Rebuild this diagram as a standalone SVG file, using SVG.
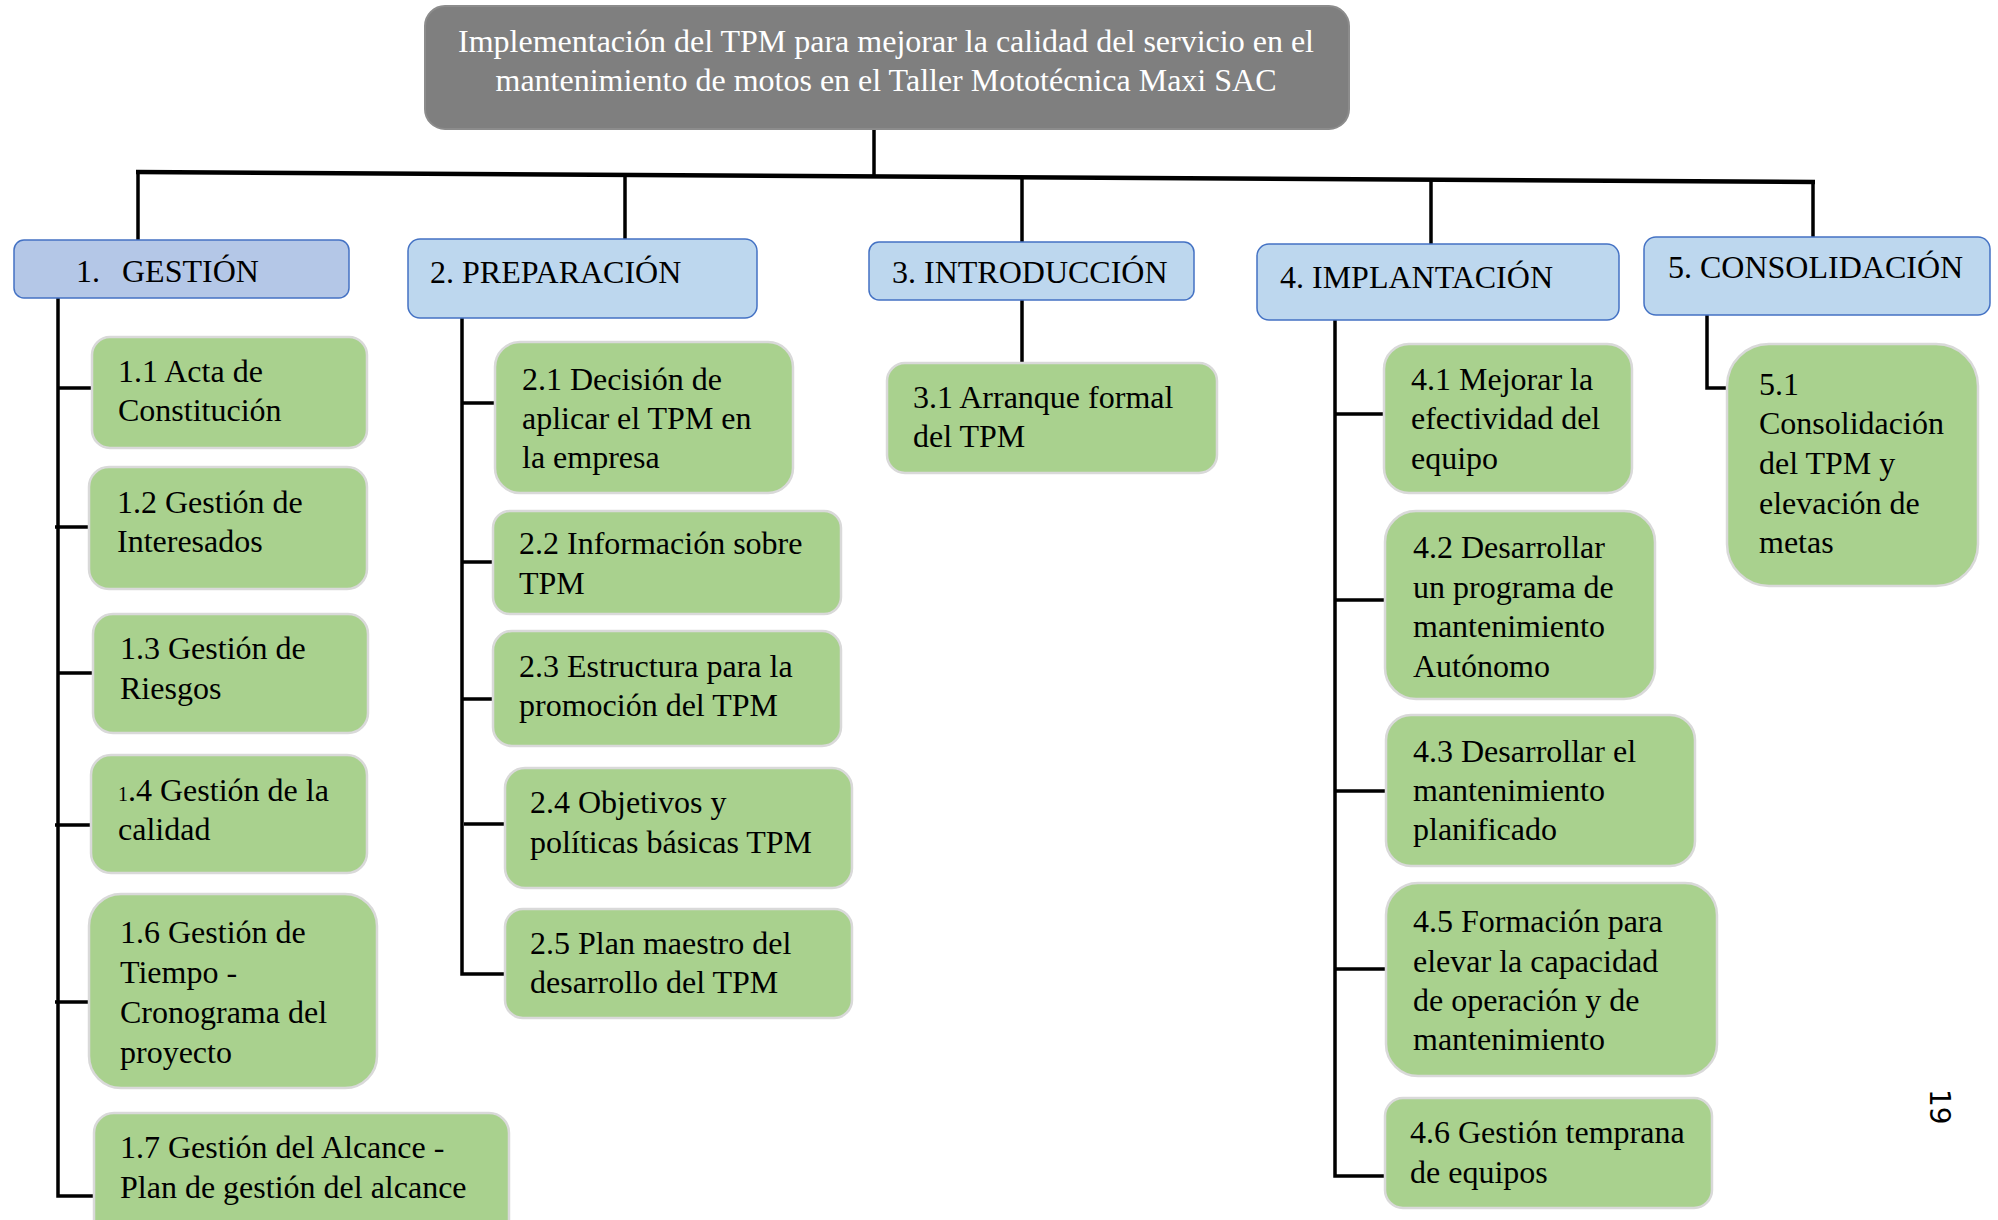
<svg xmlns="http://www.w3.org/2000/svg" width="1998" height="1220" viewBox="0 0 1998 1220">
<style>
.t{font-family:"Liberation Serif","Times New Roman",serif;font-size:32px;fill:#000}
.tw{font-family:"Liberation Serif","Times New Roman",serif;font-size:32px;fill:#fff}
.g{fill:#A9D18E;stroke:#D9D9D9;stroke-width:2.5}
.b{fill:#BDD7EE;stroke:#4472C4;stroke-width:1.5}
.c{stroke:#000;stroke-width:3.5;fill:none}
</style>
<rect width="1998" height="1220" fill="#fff"/>
<g id="connectors">
<line x1="136" y1="172" x2="1815" y2="182" stroke="#000" stroke-width="4.5"/>
<line class="c" x1="874" y1="129" x2="874" y2="178"/>
<line class="c" x1="138" y1="172" x2="138" y2="240"/>
<line class="c" x1="625" y1="175" x2="625" y2="239"/>
<line class="c" x1="1022" y1="178" x2="1022" y2="242"/>
<line class="c" x1="1431" y1="180" x2="1431" y2="244"/>
<line class="c" x1="1813" y1="182" x2="1813" y2="237"/>
<path class="c" d="M58 298 V1196 H94 M58 388 H92 M55 527 H90 M58 673 H93 M55 825 H91 M55 1002 H90"/>
<path class="c" d="M462 318 V974 H505 M462 403 H495 M462 562 H493 M462 699 H493 M464 824 H504"/>
<line class="c" x1="1022" y1="300" x2="1022" y2="363"/>
<path class="c" d="M1335 320 V1176 H1385 M1335 414 H1384 M1335 600 H1385 M1335 791 H1386 M1335 969 H1386"/>
<path class="c" d="M1707 315 V388 H1727"/>
</g>
<g id="title">
<rect x="425" y="6" width="924" height="123" rx="20" fill="#7F7F7F" stroke="#8C8C8C" stroke-width="2"/>
<text class="tw" x="886" y="52" text-anchor="middle">Implementación del TPM para mejorar la calidad del servicio en el</text>
<text class="tw" x="886" y="91" text-anchor="middle">mantenimiento de motos en el Taller Mototécnica Maxi SAC</text>
</g>
<g id="n1">
<rect x="14" y="240" width="335" height="58" rx="10" fill="#B4C7E7" stroke="#4472C4" stroke-width="1.5"/>
<text class="t" y="282"><tspan x="76">1.</tspan><tspan x="122">GESTIÓN</tspan></text>
</g>
<g id="n2">
<rect class="b" x="408" y="239" width="349" height="79" rx="12"/>
<text class="t" x="430" y="283">2. PREPARACIÓN</text>
</g>
<g id="n3">
<rect class="b" x="869" y="242" width="325" height="58" rx="10"/>
<text class="t" x="892" y="283">3. INTRODUCCIÓN</text>
</g>
<g id="n4">
<rect class="b" x="1257" y="244" width="362" height="76" rx="12"/>
<text class="t" x="1280" y="288">4. IMPLANTACIÓN</text>
</g>
<g id="n5">
<rect class="b" x="1644" y="237" width="346" height="78" rx="12"/>
<text class="t" x="1668" y="278">5. CONSOLIDACIÓN</text>
</g>
<g id="n1_1">
<rect class="g" x="92" y="337" width="275" height="111" rx="18"/>
<text class="t" x="118" y="382">1.1 Acta de</text>
<text class="t" x="118" y="421">Constitución</text>
</g>
<g id="n1_2">
<rect class="g" x="89" y="467" width="278" height="122" rx="20"/>
<text class="t" x="117" y="513">1.2 Gestión de</text>
<text class="t" x="117" y="552">Interesados</text>
</g>
<g id="n1_3">
<rect class="g" x="93" y="614" width="275" height="119" rx="20"/>
<text class="t" x="120" y="659">1.3 Gestión de</text>
<text class="t" x="120" y="699">Riesgos</text>
</g>
<g id="n1_4">
<rect class="g" x="91" y="755" width="276" height="118" rx="20"/>
<text class="t" x="118" y="801"><tspan font-size="20">1</tspan>.4 Gestión de la</text>
<text class="t" x="118" y="840">calidad</text>
</g>
<g id="n1_6">
<rect class="g" x="89" y="894" width="288" height="194" rx="32"/>
<text class="t" x="120" y="943">1.6 Gestión de</text>
<text class="t" x="120" y="983">Tiempo -</text>
<text class="t" x="120" y="1023">Cronograma del</text>
<text class="t" x="120" y="1063">proyecto</text>
</g>
<g id="n1_7">
<rect class="g" x="94" y="1113" width="415" height="130" rx="20"/>
<text class="t" x="120" y="1158">1.7 Gestión del Alcance -</text>
<text class="t" x="120" y="1198">Plan de gestión del alcance</text>
</g>
<g id="n2_1">
<rect class="g" x="495" y="342" width="298" height="151" rx="25"/>
<text class="t" x="522" y="390">2.1 Decisión de</text>
<text class="t" x="522" y="429">aplicar el TPM en</text>
<text class="t" x="522" y="468">la empresa</text>
</g>
<g id="n2_2">
<rect class="g" x="493" y="511" width="348" height="103" rx="17"/>
<text class="t" x="519" y="554">2.2 Información sobre</text>
<text class="t" x="519" y="594">TPM</text>
</g>
<g id="n2_3">
<rect class="g" x="493" y="631" width="348" height="115" rx="19"/>
<text class="t" x="519" y="677">2.3 Estructura para la</text>
<text class="t" x="519" y="716">promoción del TPM</text>
</g>
<g id="n2_4">
<rect class="g" x="505" y="768" width="347" height="120" rx="20"/>
<text class="t" x="530" y="813">2.4 Objetivos y</text>
<text class="t" x="530" y="853">políticas básicas TPM</text>
</g>
<g id="n2_5">
<rect class="g" x="505" y="909" width="347" height="109" rx="18"/>
<text class="t" x="530" y="954">2.5 Plan maestro del</text>
<text class="t" x="530" y="993">desarrollo del TPM</text>
</g>
<g id="n3_1">
<rect class="g" x="887" y="363" width="330" height="110" rx="18"/>
<text class="t" x="913" y="408">3.1 Arranque formal</text>
<text class="t" x="913" y="447">del TPM</text>
</g>
<g id="n4_1">
<rect class="g" x="1384" y="344" width="248" height="149" rx="25"/>
<text class="t" x="1411" y="390">4.1 Mejorar la</text>
<text class="t" x="1411" y="429">efectividad del</text>
<text class="t" x="1411" y="469">equipo</text>
</g>
<g id="n4_2">
<rect class="g" x="1385" y="511" width="270" height="188" rx="31"/>
<text class="t" x="1413" y="558">4.2 Desarrollar</text>
<text class="t" x="1413" y="598">un programa de</text>
<text class="t" x="1413" y="637">mantenimiento</text>
<text class="t" x="1413" y="677">Autónomo</text>
</g>
<g id="n4_3">
<rect class="g" x="1386" y="715" width="309" height="151" rx="25"/>
<text class="t" x="1413" y="762">4.3 Desarrollar el</text>
<text class="t" x="1413" y="801">mantenimiento</text>
<text class="t" x="1413" y="840">planificado</text>
</g>
<g id="n4_5">
<rect class="g" x="1386" y="883" width="331" height="193" rx="32"/>
<text class="t" x="1413" y="932">4.5 Formación para</text>
<text class="t" x="1413" y="972">elevar la capacidad</text>
<text class="t" x="1413" y="1011">de operación y de</text>
<text class="t" x="1413" y="1050">mantenimiento</text>
</g>
<g id="n4_6">
<rect class="g" x="1385" y="1098" width="327" height="110" rx="18"/>
<text class="t" x="1410" y="1143">4.6 Gestión temprana</text>
<text class="t" x="1410" y="1183">de equipos</text>
</g>
<g id="n5_1">
<rect class="g" x="1727" y="344" width="251" height="242" rx="42"/>
<text class="t" x="1759" y="395">5.1</text>
<text class="t" x="1759" y="434">Consolidación</text>
<text class="t" x="1759" y="474">del TPM y</text>
<text class="t" x="1759" y="514">elevación de</text>
<text class="t" x="1759" y="553">metas</text>
</g>
<text x="1930" y="1089" transform="rotate(90 1930 1089)" font-family="DejaVu Sans,sans-serif" font-size="28" fill="#000">19</text>
</svg>
